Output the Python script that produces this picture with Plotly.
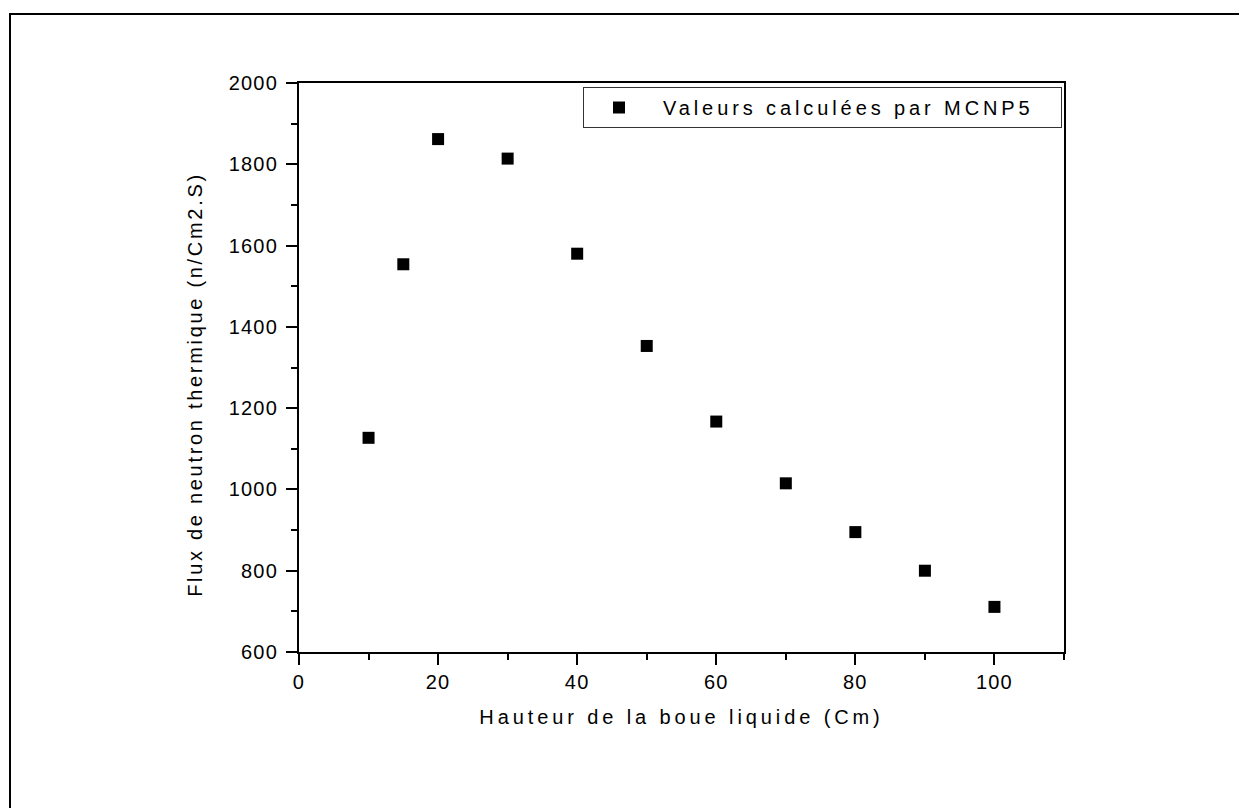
import plotly.graph_objects as go

# Flux de neutrons thermiques calculé (MCNP5) en fonction de la hauteur de boue
hauteur_cm = [10, 15, 20, 30, 40, 50, 60, 70, 80, 90, 100]
flux_thermique = [1127, 1554, 1862, 1814, 1580, 1353, 1167, 1015, 895, 800, 711]

serie_nom = "Valeurs calculées par MCNP5"
titre_x = "Hauteur de la boue liquide (Cm)"
titre_y = "Flux de neutron thermique (n/Cm2.S)"

# Page and plot-area geometry (pixels)
W, H = 1239, 808
PL, PR, PT, PB = 299, 1064, 83, 652
PW, PH = PR - PL, PB - PT


def px(x):
    return (x - PL) / PW


def py(y):
    return (PB - y) / PH


FONT = "Liberation Sans, Arial, Helvetica, sans-serif"

fig = go.Figure()
fig.add_trace(go.Scatter(
    x=hauteur_cm,
    y=flux_thermique,
    mode="markers",
    name=serie_nom,
    marker=dict(symbol="square", size=12, color="black", line=dict(width=0)),
    showlegend=True,
))

axis_common = dict(
    showline=True, linewidth=2, linecolor="black", mirror=True,
    ticks="outside", ticklen=11, tickwidth=2, tickcolor="black",
    showgrid=False, zeroline=False,
    tickfont=dict(family=FONT, size=20, color="black"),
)

fig.update_xaxes(
    range=[0, 110], tickmode="linear", tick0=0, dtick=20,
    minor=dict(tick0=0, dtick=10, ticks="outside", ticklen=6, tickwidth=2,
               tickcolor="black", showgrid=False),
    title=dict(text=titre_x, font=dict(family=FONT, size=20, color="black"), standoff=18),
    **axis_common,
)
fig.update_yaxes(
    range=[600, 2000], tickmode="linear", tick0=600, dtick=200,
    minor=dict(tick0=600, dtick=100, ticks="outside", ticklen=6, tickwidth=2,
               tickcolor="black", showgrid=False),
    ticklabelstandoff=4,
    title=dict(text=titre_y, font=dict(family=FONT, size=20, color="black"), standoff=26),
    **axis_common,
)

fig.update_layout(
    width=W, height=H,
    margin=dict(l=PL, r=W - PR, t=PT, b=H - PB, pad=0),
    paper_bgcolor="white", plot_bgcolor="white",
    font=dict(family=FONT, size=20, color="black"),
    showlegend=True,
    legend=dict(
        x=px(583), y=py(87), xanchor="left", yanchor="top",
        orientation="h", entrywidth=393, entrywidthmode="pixels",
        indentation=-9, itemwidth=78,
        bgcolor="white", bordercolor="#333333", borderwidth=1,
        font=dict(family=FONT, size=20, color="black"),
    ),
    shapes=[
        # outer frame of the figure
        dict(type="rect", xref="paper", yref="paper",
             x0=px(10), x1=px(1262), y0=py(14), y1=py(830),
             line=dict(color="black", width=2), fillcolor="rgba(0,0,0,0)",
             layer="below"),
    ],
)

# widen the letter spacing of the labels; move the y title slightly down
spacing_js = """
var gd = document.getElementById('{plot_id}');
function spacing(sel, v) {
  gd.querySelectorAll(sel).forEach(function (el) { el.style.letterSpacing = v; });
}
spacing('.xtitle', '3.9px');
spacing('.legendtext', '3.9px');
spacing('.ytitle', '2.7px');
spacing('.xtick text', '1.2px');
spacing('.ytick text', '1.2px');
gd.querySelectorAll('.ytitle').forEach(function (el) {
  el.setAttribute('transform', 'translate(0,17) ' + (el.getAttribute('transform') || ''));
});
"""

fig.write_html("out.html", post_script=spacing_js)
